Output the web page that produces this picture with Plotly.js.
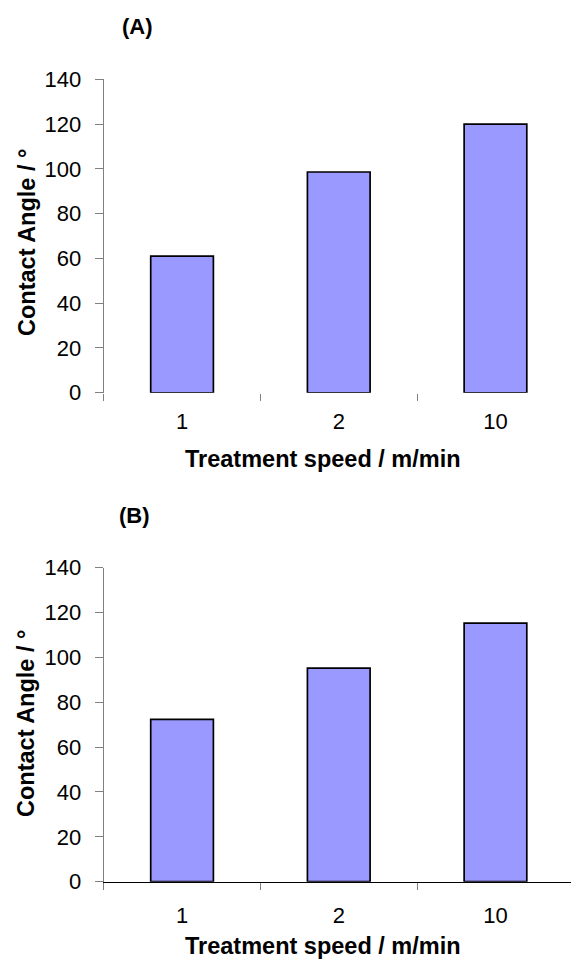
<!DOCTYPE html>
<html>
<head>
<meta charset="utf-8">
<script src="https://cdn.plot.ly/plotly-3.0.1.min.js"></script>
<style>html,body{margin:0;padding:0;background:#fff;}#chart{width:571px;height:960px;}</style>
</head>
<body>
<div id="chart"></div>
<script>
// Data
const categories = ['1', '2', '10'];
const angleA = [61, 98.6, 120];
const angleB = [72.4, 95.2, 115.3];
const yTickVals = [0, 20, 40, 60, 80, 100, 120, 140];
const panelLabels = ['(A)', '(B)'];
const xTitle = 'Treatment speed / m/min';
const yTitle = 'Contact Angle / °';

const FONT = 'Liberation Sans, Arial, sans-serif';
const barColor = '#9999FF';

const barStyle = {
  type: 'bar',
  marker: {color: barColor, line: {color: '#000000', width: 1.7}},
  hoverinfo: 'x+y'
};

const traces = [
  Object.assign({x: categories, y: angleA, xaxis: 'x', yaxis: 'y'}, barStyle),
  Object.assign({x: categories, y: angleB, xaxis: 'x2', yaxis: 'y2'}, barStyle)
];

function xAxis(anchor, showline) {
  return {
    domain: [0.1816, 1], anchor: anchor, type: 'category',
    range: [-0.5, 2.482], tickson: 'boundaries',
    ticks: 'outside', ticklen: 7, tickcolor: '#808080', tickwidth: 1,
    showline: showline, linecolor: '#000000', linewidth: 1.5,
    showgrid: false, zeroline: false, ticklabelstandoff: 13,
    tickfont: {family: FONT, size: 22, color: '#000'}
  };
}
function yAxis(anchor, domain) {
  return {
    domain: domain, anchor: anchor, range: [0, 140],
    tickvals: yTickVals,
    ticks: 'outside', ticklen: 8, tickcolor: '#808080', tickwidth: 1,
    showline: true, linecolor: '#808080', linewidth: 1,
    showgrid: false, zeroline: false, ticklabelstandoff: 9,
    tickfont: {family: FONT, size: 22, color: '#000'}
  };
}

const annBase = {xref: 'paper', yref: 'paper', showarrow: false,
  font: {family: FONT, color: '#000'}};

const annotations = [
  Object.assign({}, annBase, {text: '<b>' + panelLabels[0] + '</b>', x: 137/571, y: 1 - 26/960, xanchor: 'center', yanchor: 'middle', font: {family: FONT, size: 22, color: '#000'}}),
  Object.assign({}, annBase, {text: '<b>' + panelLabels[1] + '</b>', x: 134/571, y: 1 - 515/960, xanchor: 'center', yanchor: 'middle', font: {family: FONT, size: 22, color: '#000'}}),
  Object.assign({}, annBase, {text: '<b>' + xTitle + '</b>', x: 323/571, y: 1 - 459/960, xanchor: 'center', yanchor: 'middle', font: {family: FONT, size: 23.5, color: '#000'}}),
  Object.assign({}, annBase, {text: '<b>' + xTitle + '</b>', x: 323/571, y: 1 - 946/960, xanchor: 'center', yanchor: 'middle', font: {family: FONT, size: 23.5, color: '#000'}}),
  Object.assign({}, annBase, {text: '<b>' + yTitle + '</b>', x: 27/571, y: 1 - 243/960, xanchor: 'center', yanchor: 'middle', textangle: -90, font: {family: FONT, size: 23.5, color: '#000'}}),
  Object.assign({}, annBase, {text: '<b>' + yTitle + '</b>', x: 26/571, y: 1 - 724/960, xanchor: 'center', yanchor: 'middle', textangle: -90, font: {family: FONT, size: 23.5, color: '#000'}})
];

const layout = {
  width: 571, height: 960,
  margin: {l: 0, r: 0, t: 0, b: 0},
  paper_bgcolor: '#ffffff', plot_bgcolor: '#ffffff',
  showlegend: false, bargap: 0.6,
  font: {family: FONT, color: '#000'},
  xaxis: xAxis('y', false),
  yaxis: yAxis('x', [0.5909, 0.9174]),
  xaxis2: xAxis('y2', true),
  yaxis2: yAxis('x2', [0.08156, 0.40865]),
  annotations: annotations
};

Plotly.newPlot('chart', traces, layout, {staticPlot: true, displayModeBar: false});
</script>
</body>
</html>
